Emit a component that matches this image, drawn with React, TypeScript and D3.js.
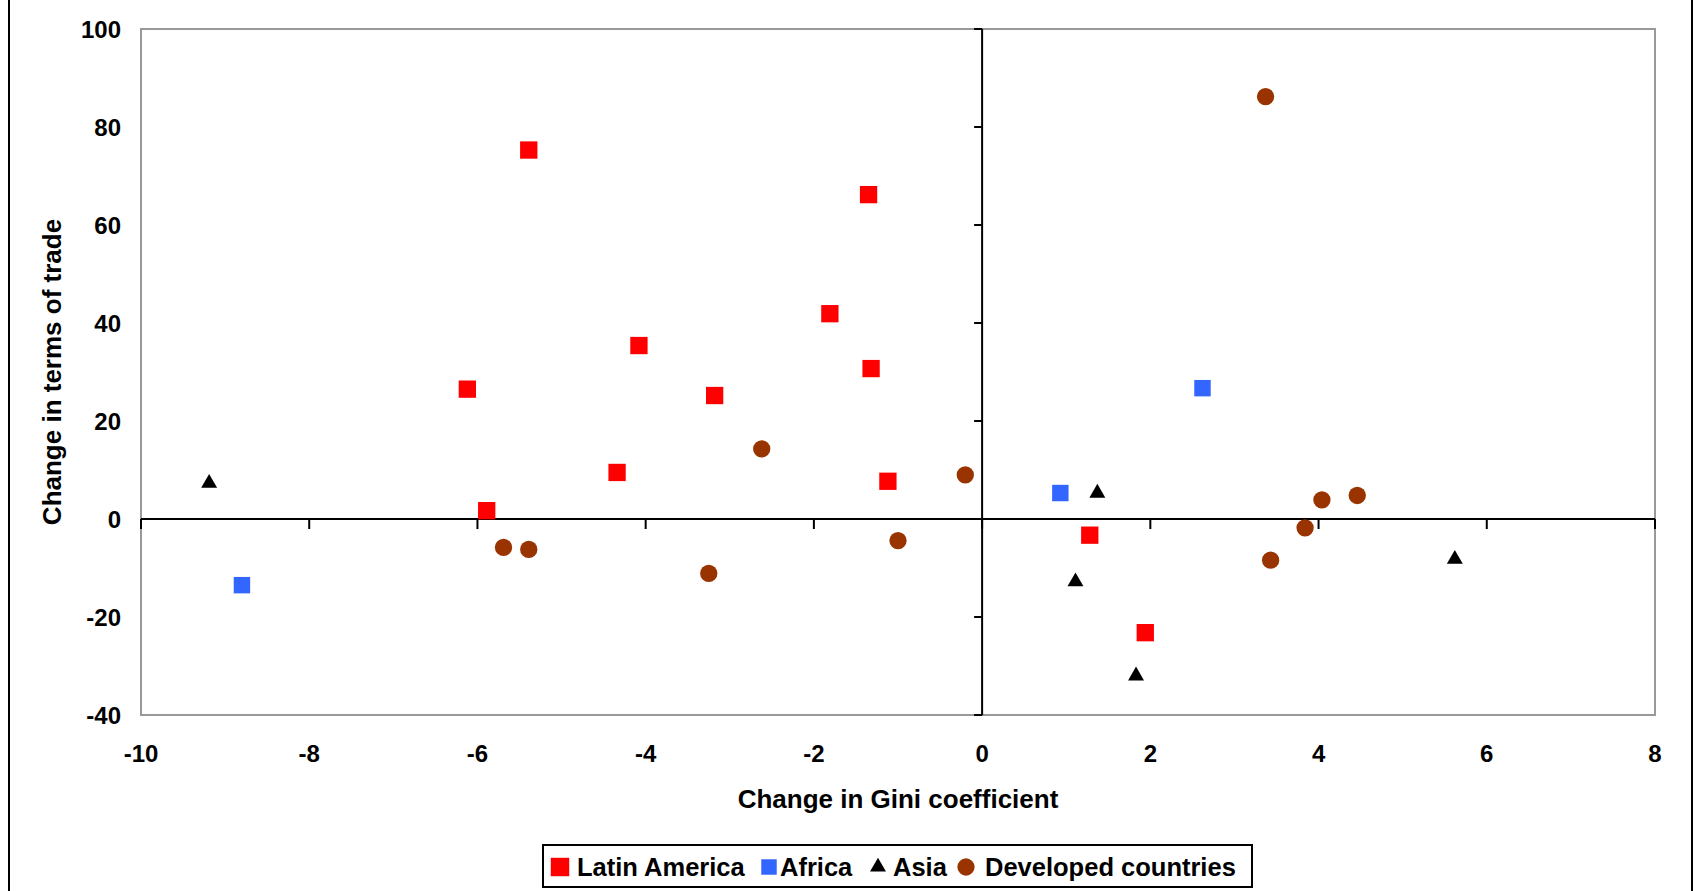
import * as d3 from "d3";

// plot box, in page pixels
const MARGIN = { top: 29, right: 41, bottom: 176, left: 141 };
const WIDTH = 1696;
const HEIGHT = 891;

const xTicks = [-10, -8, -6, -4, -2, 0, 2, 4, 6, 8];
const yTicks = [-40, -20, 0, 20, 40, 60, 80, 100];

// [change in Gini, change in terms of trade]
const latinAmerica: [number, number][] = [
  [-5.39, 75.3], [-1.35, 66.2], [-1.81, 41.9], [-4.08, 35.4],
  [-6.12, 26.5], [-3.18, 25.2], [-1.32, 30.7], [-4.34, 9.5],
  [-1.12, 7.7], [-5.89, 1.7], [1.28, -3.3], [1.94, -23.2],
];
const africa: [number, number][] = [
  [-8.8, -13.5], [0.93, 5.3], [2.62, 26.7],
];
const asia: [number, number][] = [
  [-9.19, 7.3], [1.37, 5.3], [1.11, -12.8], [1.83, -32.0], [5.62, -8.2],
];
const developed: [number, number][] = [
  [3.37, 86.2], [-2.62, 14.3], [-0.2, 9.0], [-5.69, -5.8], [-5.39, -6.2],
  [-3.25, -11.1], [-1.0, -4.4], [4.04, 3.9], [4.46, 4.8], [3.84, -1.8],
  [3.43, -8.4],
];

const seriesNames = ["Latin America", "Africa", "Asia", "Developed countries"];

const FONT = "'Liberation Sans', Arial, sans-serif";

export default function App() {
  const x = d3
    .scaleLinear()
    .domain([-10, 8])
    .range([MARGIN.left, WIDTH - MARGIN.right]);
  const y = d3
    .scaleLinear()
    .domain([-40, 100])
    .range([HEIGHT - MARGIN.bottom, MARGIN.top]);

  const series = [
    { name: seriesNames[0], data: latinAmerica, type: d3.symbolSquare, size: 300, color: "#ff0000" },
    { name: seriesNames[1], data: africa, type: d3.symbolSquare, size: 270, color: "#3366ff" },
    { name: seriesNames[2], data: asia, type: d3.symbolTriangle, size: 110, color: "#000000" },
    { name: seriesNames[3], data: developed, type: d3.symbolCircle, size: 235, color: "#993300" },
  ];

  const x0 = x(0);
  const y0 = y(0);

  // legend layout (x of each marker centre, x of each text start)
  const legendMarkers = [560, 769, 878, 966];
  const legendTexts = [577, 780, 893, 985];
  const legendSizes = [340, 240, 110, 235];

  return (
    <svg
      width={WIDTH}
      height={HEIGHT}
      style={{ position: "absolute", left: 0, top: 0, background: "#fff" }}
      fontFamily={FONT}
      fontWeight="bold"
    >
      {/* page frame lines */}
      <line x1={9} x2={9} y1={0} y2={HEIGHT} stroke="#000" strokeWidth={2} />
      <line x1={1692} x2={1692} y1={0} y2={HEIGHT} stroke="#000" strokeWidth={2} />

      {/* plot area border */}
      <rect
        x={x(-10)}
        y={y(100)}
        width={x(8) - x(-10)}
        height={y(-40) - y(100)}
        fill="none"
        stroke="#999"
        strokeWidth={2}
      />

      {/* axes crossing at zero */}
      <line x1={x(-10)} x2={x(8)} y1={y0} y2={y0} stroke="#000" strokeWidth={2} />
      <line x1={x0} x2={x0} y1={y(-40)} y2={y(100)} stroke="#000" strokeWidth={2} />
      {xTicks.map((t) => (
        <line key={"xt" + t} x1={x(t)} x2={x(t)} y1={y0} y2={y0 + 10} stroke="#000" strokeWidth={2} />
      ))}
      {yTicks.map((t) => (
        <line key={"yt" + t} x1={x0 - 8} x2={x0} y1={y(t)} y2={y(t)} stroke="#000" strokeWidth={2} />
      ))}

      {/* tick labels */}
      {xTicks.map((t) => (
        <text key={"xl" + t} x={x(t)} y={762} textAnchor="middle" fontSize={24}>
          {t}
        </text>
      ))}
      {yTicks.map((t) => (
        <text key={"yl" + t} x={121} y={y(t)} dy="0.36em" textAnchor="end" fontSize={24}>
          {t}
        </text>
      ))}

      {/* axis titles */}
      <text x={(x(-10) + x(8)) / 2} y={808} textAnchor="middle" fontSize={26}>
        Change in Gini coefficient
      </text>
      <text
        transform={`translate(61,${(y(-40) + y(100)) / 2}) rotate(-90)`}
        textAnchor="middle"
        fontSize={26}
      >
        Change in terms of trade
      </text>

      {/* points */}
      {series.map((s) => {
        const sym = d3.symbol(s.type, s.size)();
        return (
          <g key={s.name}>
            {s.data.map((d, i) => (
              <path
                key={i}
                d={sym || ""}
                transform={`translate(${x(d[0])},${y(d[1])})`}
                fill={s.color}
              />
            ))}
          </g>
        );
      })}

      {/* legend */}
      <rect x={543} y={845} width={709} height={42} fill="#fff" stroke="#000" strokeWidth={2} />
      {series.map((s, i) => (
        <g key={"lg" + s.name}>
          <path
            d={d3.symbol(s.type, legendSizes[i])() || ""}
            transform={`translate(${legendMarkers[i]},867)`}
            fill={s.color}
          />
          <text x={legendTexts[i]} y={867} dy="0.36em" fontSize={25.5}>
            {s.name}
          </text>
        </g>
      ))}
    </svg>
  );
}
